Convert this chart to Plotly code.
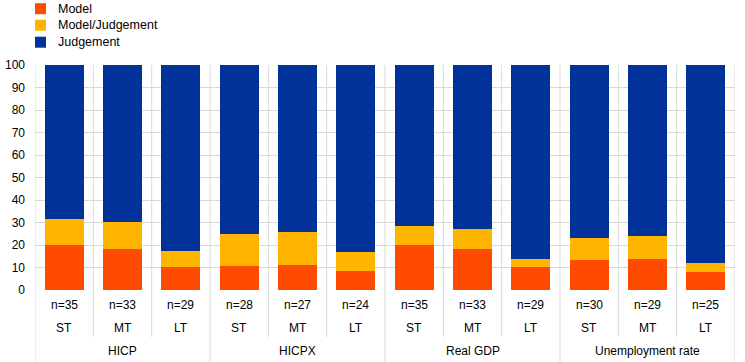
import plotly.graph_objects as go

groups = ["HICP", "HICPX", "Real GDP", "Unemployment rate"]
horizons = ["ST", "MT", "LT"]
n_labels = ["n=35", "n=33", "n=29", "n=28", "n=27", "n=24",
            "n=35", "n=33", "n=29", "n=30", "n=29", "n=25"]
model = [20.0, 18.2, 10.3, 10.7, 11.1, 8.3, 20.0, 18.2, 10.3, 13.3, 13.8, 8.0]
model_judgement = [11.4, 12.1, 6.9, 14.3, 14.8, 8.4, 8.6, 9.1, 3.5, 10.0, 10.3, 4.0]
judgement = [68.6, 69.7, 82.8, 75.0, 74.1, 83.3, 71.4, 72.7, 86.2, 76.7, 75.9, 88.0]
series_names = ["Model", "Model/Judgement", "Judgement"]

colors = {"Model": "#FF4B00", "Model/Judgement": "#FFB400", "Judgement": "#003299"}
FONT = "Liberation Sans, Arial, sans-serif"
GRID = "#d9d9d9"

W_PLOT = 700.0
H = 225.0  # plot height in px
def py(pix):
    return (290 - pix) / H
def px(pix):
    return (pix - 35) / W_PLOT

x = list(range(len(model)))
fig = go.Figure()
for name, vals in zip(series_names, [model, model_judgement, judgement]):
    fig.add_trace(go.Bar(x=x, y=vals, name=name, marker=dict(color=colors[name], line=dict(width=0)),
                         width=0.67, showlegend=False))

shapes = []
ncat = len(model)
for i in range(ncat + 1):
    xb = i - 0.5
    y0 = py(362) if i % 3 == 0 else py(337)
    shapes.append(dict(type="line", xref="x", yref="paper", x0=xb, x1=xb, y0=y0, y1=1,
                       line=dict(color=GRID, width=1), layer="below"))

annotations = []
tf = dict(size=12, color="#000", family=FONT)
lf = dict(size=12.5, color="#000", family=FONT)
for i in range(ncat):
    annotations.append(dict(x=i, y=py(305), xref="x", yref="paper", text=n_labels[i], showarrow=False,
                            font=tf, yanchor="middle"))
    annotations.append(dict(x=i, y=py(328), xref="x", yref="paper", text=horizons[i % 3], showarrow=False,
                            font=tf, yanchor="middle"))
for g, name in enumerate(groups):
    annotations.append(dict(x=g * 3 + 1, y=py(351), xref="x", yref="paper", text=name, showarrow=False,
                            font=tf, yanchor="middle"))

# manual legend
leg_y = [8.7, 25.2, 42.2]
for name, yc in zip(series_names, leg_y):
    shapes.append(dict(type="rect", xref="paper", yref="paper", x0=px(35), x1=px(46),
                       y0=py(yc + 5.5), y1=py(yc - 5.5), fillcolor=colors[name], line=dict(width=0)))
    annotations.append(dict(x=px(56), y=py(yc), xref="paper", yref="paper", text=name, showarrow=False,
                            xanchor="left", yanchor="middle", font=lf))

fig.update_layout(
    width=745, height=362,
    margin=dict(l=35, r=10, t=65, b=72, autoexpand=False),
    barmode="stack",
    plot_bgcolor="white", paper_bgcolor="white",
    font=dict(family=FONT, size=12, color="#000"),
    showlegend=False,
    xaxis=dict(range=[-0.5, ncat - 0.5], showticklabels=False, showgrid=False, zeroline=False,
               showline=False, fixedrange=True),
    yaxis=dict(range=[0, 100], dtick=10, tick0=0, showgrid=True, gridcolor=GRID, gridwidth=1,
               zeroline=False, showline=False, ticks="", ticklabelstandoff=9,
               tickfont=tf, fixedrange=True),
    shapes=shapes, annotations=annotations,
)

fig.write_html("out.html", config={"displayModeBar": False},
               post_script="document.body.style.margin='0';document.body.style.padding='0';document.body.style.overflow='hidden';")
